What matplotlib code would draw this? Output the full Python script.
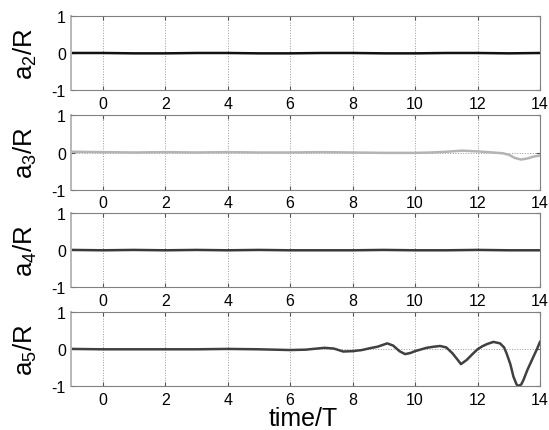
import numpy as np
import matplotlib.pyplot as plt

plt.rcParams['font.family'] = ['Liberation Sans', 'DejaVu Sans']
plt.rcParams['mathtext.fontset'] = 'custom'
plt.rcParams['mathtext.rm'] = 'Liberation Sans'

# data
t_a2 = [-1, 0, 1, 2, 3, 4, 5, 6, 7, 8, 9, 10, 11, 12, 13, 14]
a2 = [0.0, 0.0, -0.01, -0.01, 0.0, 0.0, -0.01, -0.01, 0.0, 0.0, -0.01, -0.01, 0.0, 0.0, -0.01, 0.0]

t_a3 = [-1, 0, 1, 2, 3, 4, 5, 6, 7, 8, 9, 10, 10.5, 11, 11.5, 12, 12.5, 12.8, 13, 13.2, 13.4, 13.6, 13.8, 14]
a3 = [0.02, 0.01, 0.0, 0.01, 0.0, 0.01, 0.0, 0.0, 0.01, 0.0, -0.01, -0.01, 0.0, 0.02, 0.05, 0.03, 0.0, -0.02,
      -0.06, -0.15, -0.19, -0.16, -0.11, -0.08]

t_a4 = [-1, 0, 1, 2, 3, 4, 5, 6, 7, 8, 9, 10, 11, 12, 13, 14]
a4 = [0.01, 0.0, 0.01, 0.0, 0.01, 0.0, 0.01, 0.0, 0.0, 0.0, 0.01, 0.0, 0.0, 0.01, 0.0, 0.0]

t_a5 = [-1, 0, 1, 2, 3, 4, 5, 6, 6.5, 7.1, 7.4, 7.7, 8.0, 8.3, 8.56, 8.8, 9.11, 9.3, 9.5, 9.68, 9.85,
        10.0, 10.37, 10.6, 10.8, 11.0, 11.2, 11.35, 11.47, 11.65, 11.85, 12.0, 12.15, 12.3, 12.51, 12.72,
        12.85, 12.93, 13.05, 13.15, 13.25, 13.31, 13.4, 13.47, 13.6, 13.79, 13.9, 14.0]
a5 = [0.01, 0.0, 0.0, 0.0, 0.0, 0.01, 0.0, -0.02, -0.01, 0.04, 0.02, -0.06, -0.05, -0.02, 0.03, 0.07,
      0.16, 0.1, -0.05, -0.13, -0.1, -0.05, 0.04, 0.07, 0.09, 0.05, -0.11, -0.27, -0.4, -0.29, -0.12,
      0.0, 0.08, 0.14, 0.2, 0.16, 0.05, -0.11, -0.4, -0.74, -0.95, -0.99, -0.95, -0.83, -0.55, -0.2, 0.0, 0.2]

series = [(t_a2, a2, '#111111', r'$\mathregular{a_2/R}$'),
          (t_a3, a3, '#b4b4b4', r'$\mathregular{a_3/R}$'),
          (t_a4, a4, '#3a3a3a', r'$\mathregular{a_4/R}$'),
          (t_a5, a5, '#404040', r'$\mathregular{a_5/R}$')]

fig = plt.figure(figsize=(5.49, 4.31), dpi=100)
bottoms = [0.7889, 0.5580, 0.3311, 0.1014]

for (t, y, c, lab), b in zip(series, bottoms):
    ax = fig.add_axes([0.1302, b, 0.8534, 0.1717])
    ax.plot(t, y, color=c, lw=1.8)
    ax.set_xlim(-1, 14)
    ax.set_ylim(-1, 1)
    ax.set_xticks(range(0, 15, 2))
    ax.set_yticks([-1, 0, 1])
    ax.set_yticklabels(['-1', '0', '1'])
    ax.grid(True, linestyle=':', color='#999999', lw=0.7)
    ax.tick_params(direction='in', length=3, labelsize=11.5, pad=4, color='#555555',
                   top=True, right=True)
    for s in ax.spines.values():
        s.set_color('#808080')
    ax.spines['left'].set_color('#b8b8b8')
    ax.spines['left'].set_linewidth(1.4)
    ax.set_ylabel(lab, fontsize=18.5)
    ax.yaxis.set_label_coords(-0.07, 0.5)

fig.text(0.552, 0.001, 'time/T', fontsize=18, ha='center', va='bottom')

fig.savefig('out.png', dpi=100)
